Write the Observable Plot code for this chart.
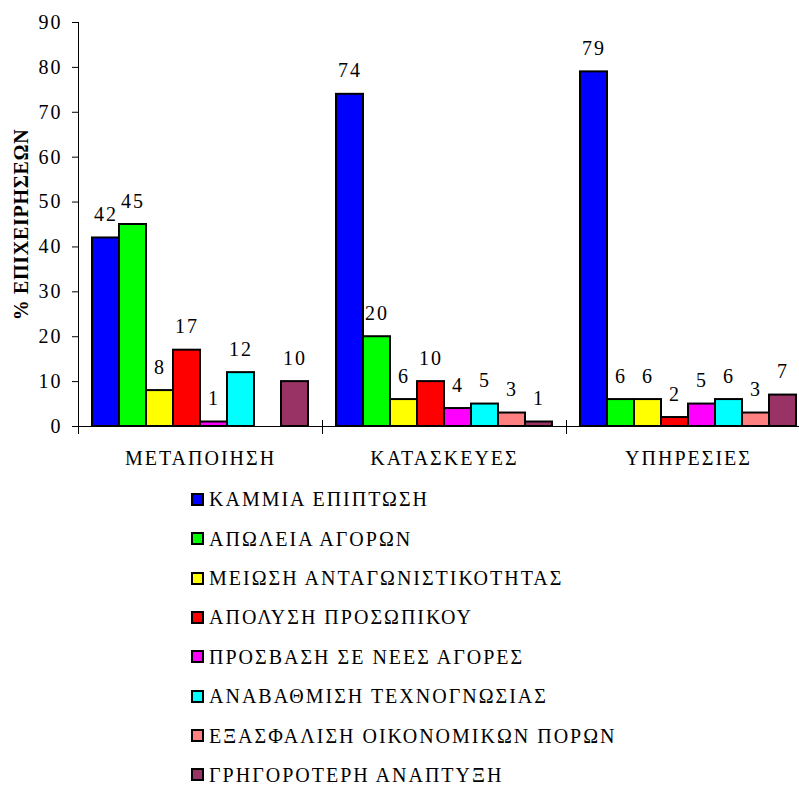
<!DOCTYPE html>
<html>
<head>
<meta charset="utf-8">
<script src="https://cdn.jsdelivr.net/npm/d3@7"></script>
<script src="https://cdn.jsdelivr.net/npm/@observablehq/plot@0.6"></script>
<style>
  html, body { margin: 0; padding: 0; background: #fff; overflow: hidden; }
  body, #legend, .item, .item span { font-family: 'Liberation Serif', serif; color: #000; }
  #chart svg, #chart svg text { font-family: 'Liberation Serif', serif; }
  #chart svg text { letter-spacing: 2px; }
  #legend { margin-left: 191px; margin-top: 11.25px; }
  .item { display: flex; align-items: center; height: 16px; font-size: 20px; letter-spacing: 2px; line-height: 16px; margin-bottom: 23.4px; }
  .item:last-child { margin-bottom: 0; }
  .sw { width: 13px; height: 13px; box-sizing: border-box; border: 2px solid #000; margin-right: 5px; flex: none; }
</style>
</head>
<body>
<div id="chart"></div>
<div id="legend"></div>
<script>
// ---- data ----
const categories = ["ΜΕΤΑΠΟΙΗΣΗ", "ΚΑΤΑΣΚΕΥΕΣ", "ΥΠΗΡΕΣΙΕΣ"];
const series = [
  "ΚΑΜΜΙΑ ΕΠΙΠΤΩΣΗ",
  "ΑΠΩΛΕΙΑ ΑΓΟΡΩΝ",
  "ΜΕΙΩΣΗ ΑΝΤΑΓΩΝΙΣΤΙΚΟΤΗΤΑΣ",
  "ΑΠΟΛΥΣΗ ΠΡΟΣΩΠΙΚΟΥ",
  "ΠΡΟΣΒΑΣΗ ΣΕ ΝΕΕΣ ΑΓΟΡΕΣ",
  "ΑΝΑΒΑΘΜΙΣΗ ΤΕΧΝΟΓΝΩΣΙΑΣ",
  "ΕΞΑΣΦΑΛΙΣΗ ΟΙΚΟΝΟΜΙΚΩΝ ΠΟΡΩΝ",
  "ΓΡΗΓΟΡΟΤΕΡΗ ΑΝΑΠΤΥΞΗ"
];
const colors = ["#0000FF", "#00FF00", "#FFFF00", "#FF0000", "#FF00FF", "#00FFFF", "#FF8080", "#993366"];
const metapoiisi = [42, 45, 8, 17, 1, 12, null, 10];
const kataskeves = [74, 20, 6, 10, 4, 5, 3, 1];
const ypiresies = [79, 6, 6, 2, 5, 6, 3, 7];
const yTicks = [0, 10, 20, 30, 40, 50, 60, 70, 80, 90];
const yLabel = "% ΕΠΙΧΕΙΡΗΣΕΩΝ";

// ---- table built from the arrays ----
const valuesByCategory = [metapoiisi, kataskeves, ypiresies];
const rows = [];
categories.forEach((c, ci) => {
  series.forEach((s, si) => {
    const v = valuesByCategory[ci][si];
    if (v != null) rows.push({category: c, series: s, value: v});
  });
});

// ---- layout ----
const W = 799, H = 480, MT = 22, MB = 54, ML = 78, MR = -11;
const plotH = H - MT - MB;
const FONT = "'Liberation Serif', serif";

const chart = Plot.plot({
  width: W,
  height: H,
  marginTop: MT,
  marginBottom: MB,
  marginLeft: ML,
  marginRight: MR,
  style: {fontFamily: FONT, fontSize: "20px", color: "#000", background: "#fff"},
  fx: {domain: categories, padding: 0, label: null},
  x: {domain: series, paddingInner: 0, paddingOuter: 0.5, axis: null},
  y: {domain: [0, 90], label: null},
  color: {domain: series, range: colors},
  marks: [
    Plot.barY(rows, {fx: "category", x: "series", y: "value", fill: "series", stroke: "#000", strokeWidth: 2}),
    Plot.text(rows, {fx: "category", x: "series", y: "value", text: d => String(d.value), lineAnchor: "bottom", dy: -17, fill: "#000", fontSize: 20, fontFamily: FONT}),
    Plot.ruleY([0], {stroke: "#000", strokeWidth: 1}),
    Plot.frame({anchor: "left", facetAnchor: "left", insetBottom: -7, stroke: "#000", strokeWidth: 1}),
    Plot.frame({anchor: "left", insetTop: plotH - 6, insetBottom: -7, stroke: "#000", strokeWidth: 1}),
    Plot.axisY({ticks: yTicks, tickSize: 6, tickPadding: 10, tickFormat: d => String(d), fontSize: 20, fontFamily: FONT, label: null}),
    Plot.text([yLabel], {facetAnchor: "left", frameAnchor: "left", text: d => d, rotate: -90, dx: -57,
                         textAnchor: "middle", lineAnchor: "middle",
                         fontWeight: "bold", fontSize: 20, fontFamily: FONT, fill: "#000"}),
    Plot.axisFx({anchor: "bottom", tickSize: 0, tickPadding: 24, fontSize: 20, fontFamily: FONT, label: null})
  ]
});
document.getElementById("chart").appendChild(chart);
d3.select(chart).selectAll("text")
  .filter(function() { return this.textContent === yLabel; })
  .style("letter-spacing", "0.7px");

// ---- legend ----
const legend = d3.select("#legend");
series.forEach((s, i) => {
  const it = legend.append("div").attr("class", "item");
  it.append("div").attr("class", "sw").style("background", colors[i]);
  it.append("span").text(s);
});
</script>
</body>
</html>
